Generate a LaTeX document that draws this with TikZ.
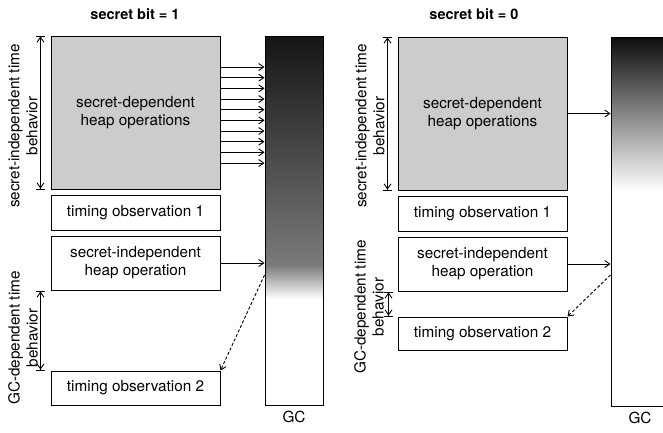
\documentclass[tikz,border=0pt]{standalone}
\usepackage{fontspec}
\setmainfont{TeX Gyre Heros}
\usepackage{tikz}
\usetikzlibrary{positioning,arrows.meta}

\begin{document}
\begin{tikzpicture}[x=1pt,y=-1pt,
  font=\fontsize{15.3}{18}\selectfont,
  >={Straight Barb[length=5pt,width=7pt]},
  every path/.style={line width=0.9pt},
  heapbox/.style={draw, line width=1pt, fill=black!20, align=center, minimum width=169pt, minimum height=153pt},
  obsbox/.style={draw, line width=1pt, align=center, minimum width=169pt},
  gcbar/.style={draw, line width=1pt, minimum width=58pt, minimum height=369pt},
  timespan/.style={line width=0.9pt, arrows={Bar[width=9pt]Straight Barb[length=5pt,width=7pt]-Straight Barb[length=5pt,width=7pt]Bar[width=9pt]}},
  sidelbl/.style={rotate=90, align=center},
  titlelbl/.style={font=\fontsize{14.5}{17}\selectfont\bfseries}]
\useasboundingbox (0,0) rectangle (663,432);

% secret bit = 1
\node[titlelbl] (title1) at (135,14) {secret bit = 1};
\node[heapbox] (ops1) at (135.5,112.5) {secret-dependent\\heap operations};
\node[obsbox, minimum height=35pt] (obs1a) at (135.5,212.5) {timing observation 1};
\node[obsbox, minimum height=54pt] (heap1) at (135.5,263) {secret-independent\\heap operation};
\node[obsbox, minimum height=34pt] (obs1b) at (135.5,388) {timing observation 2};

% GC（左）
\shade[top color=black!92, bottom color=black!52] (265,36) rectangle (323,265);
\shade[top color=black!52, bottom color=white] (265,265) rectangle (323,299);
\node[gcbar] (gc1) at (294,220.5) {};
\node[below=2pt of gc1] (gclbl1) {GC};

\foreach \k in {0,...,9}
  \draw[->] ([yshift={45.5pt-\k*10.67pt}]ops1.east) -- ([yshift={45.5pt-\k*10.67pt}]ops1.east -| gc1.west);
\draw[->] (heap1.east) -- (heap1.east -| gc1.west);
\draw[->, dash pattern=on 3pt off 2pt] ([yshift=-54.5pt]gc1.west) -- (obs1b.north east);

\draw[timespan] ([xshift=-10pt]ops1.north west) -- ([xshift=-10pt]ops1.south west);
\node[sidelbl] (time1a) at (23,126) {secret-independent time\\behavior};
\draw[timespan] ([xshift=-10pt]heap1.south west) -- ([xshift=-10pt]obs1b.north west);
\node[sidelbl] (time1b) at (23,338) {GC-dependent time\\behavior};

% secret bit = 0
\node[titlelbl] (title2) at (474,14) {secret bit = 0};
\node[heapbox] (ops2) at (482.5,113.5) {secret-dependent\\heap operations};
\node[obsbox, minimum height=35pt] (obs2a) at (482.5,213.5) {timing observation 1};
\node[obsbox, minimum height=54pt] (heap2) at (482.5,264) {secret-independent\\heap operation};
\node[obsbox, minimum height=33pt] (obs2b) at (482.5,333.5) {timing observation 2};

% GC（右）
\shade[top color=black!95, bottom color=white] (611,37) rectangle (669,191);
\node[gcbar] (gc2) at (640,221.5) {};
\node[below=2pt of gc2] (gclbl2) {GC};

\draw[->] (ops2.east) -- (ops2.east -| gc2.west);
\draw[->] (heap2.east) -- (heap2.east -| gc2.west);
\draw[->, dash pattern=on 3pt off 2pt] ([yshift=-53.5pt]gc2.west) -- (obs2b.north east);

\draw[timespan] ([xshift=-10pt]ops2.north west) -- ([xshift=-10pt]ops2.south west);
\node[sidelbl] (time2a) at (370,126) {secret-independent time\\behavior};
\draw[timespan] ([xshift=-9pt]heap2.south west) -- ([xshift=-9pt]obs2b.north west);
\node[sidelbl] (time2b) at (369,307) {GC-dependent time\\behavior};
\end{tikzpicture}
\end{document}
